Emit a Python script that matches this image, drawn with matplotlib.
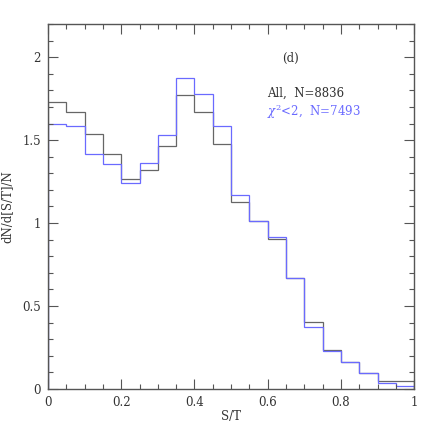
import numpy as np
import matplotlib
matplotlib.use("Agg")
import matplotlib.pyplot as plt
from matplotlib.ticker import MultipleLocator, FuncFormatter

# ── Data (normalised histograms, bin width 0.05) ──────────────────────────
bin_edges = np.linspace(0, 1, 21)
all_vals = [1.727, 1.667, 1.536, 1.416, 1.263, 1.317, 1.464, 1.773, 1.669, 1.476,
            1.125, 1.010, 0.904, 0.669, 0.404, 0.232, 0.163, 0.098, 0.046, 0.046]
chi_vals = [1.598, 1.586, 1.416, 1.355, 1.241, 1.361, 1.528, 1.873, 1.775, 1.582,
            1.167, 1.010, 0.918, 0.669, 0.373, 0.229, 0.163, 0.098, 0.036, 0.020]
all_label = "All,  N=8836"
chi_label = r"$\chi^2$<2,  N=7493"

plt.rcParams["font.family"] = "DejaVu Serif"
plt.rcParams["mathtext.fontset"] = "dejavuserif"

AX_COLOR = "#555555"
ALL_COLOR = "#666666"
CHI_COLOR = "#6a6aff"

fig = plt.figure(figsize=(4.36, 4.36), dpi=100)
ax = fig.add_axes([0.110, 0.108, 0.840, 0.837])

ax.stairs(all_vals, bin_edges, color=ALL_COLOR, linewidth=0.9)
ax.stairs(chi_vals, bin_edges, color=CHI_COLOR, linewidth=0.9)

ax.set_xlim(0, 1)
ax.set_ylim(0, 2.2)
ax.xaxis.set_major_locator(MultipleLocator(0.2))
ax.xaxis.set_minor_locator(MultipleLocator(0.05))
ax.yaxis.set_major_locator(MultipleLocator(0.5))
ax.yaxis.set_minor_locator(MultipleLocator(0.1))
fmt = FuncFormatter(lambda v, _: f"{v:g}")
ax.xaxis.set_major_formatter(fmt)
ax.yaxis.set_major_formatter(fmt)
ax.tick_params(which="both", direction="in", top=True, right=True,
               colors=AX_COLOR, labelcolor="#333333", labelsize=8.5, width=0.8)
ax.tick_params(which="major", length=7, pad=5)
ax.tick_params(which="minor", length=3.5)
for s in ax.spines.values():
    s.set_color(AX_COLOR)
    s.set_linewidth(1.0)

ax.set_xlabel("S/T", fontsize=8.5, color="#333333")
ax.set_ylabel("dN/d[S/T]/N", fontsize=8.5, color="#333333")
ax.yaxis.set_label_coords(-0.095, 0.5)
ax.xaxis.set_label_coords(0.5, -0.058)

ax.text(0.64, 1.99, "(d)", fontsize=8.5, color="#333333", va="center", ha="left")
ax.text(0.598, 1.78, all_label, fontsize=8.5, color="#333333", va="center", ha="left")
ax.text(0.598, 1.67, chi_label, fontsize=8.5, color=CHI_COLOR, va="center", ha="left")

fig.savefig("out.png", dpi=100, facecolor="white")
